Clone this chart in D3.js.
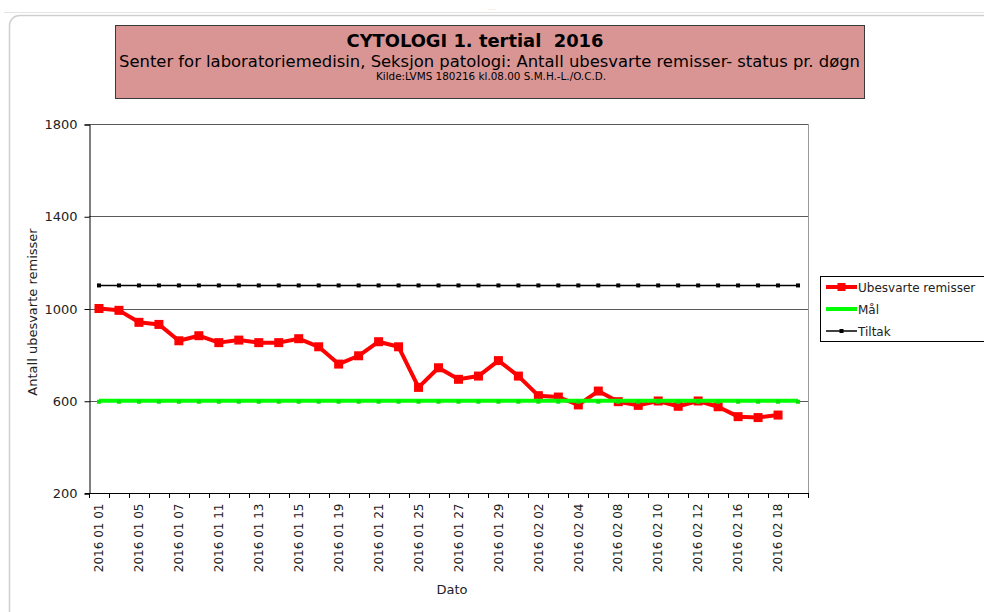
<!DOCTYPE html>
<html><head><meta charset="utf-8">
<script src="https://cdn.jsdelivr.net/npm/d3@7"></script>
<style>html,body{margin:0;padding:0;background:#fff;}svg{display:block;}</style>
</head><body>
<svg id="chart" width="984" height="612"></svg>
<script>
const dates = ["2016 01 01","2016 01 04","2016 01 05","2016 01 06","2016 01 07","2016 01 08","2016 01 11","2016 01 12","2016 01 13","2016 01 14","2016 01 15","2016 01 18","2016 01 19","2016 01 20","2016 01 21","2016 01 22","2016 01 25","2016 01 26","2016 01 27","2016 01 28","2016 01 29","2016 02 01","2016 02 02","2016 02 03","2016 02 04","2016 02 05","2016 02 08","2016 02 09","2016 02 10","2016 02 11","2016 02 12","2016 02 15","2016 02 16","2016 02 17","2016 02 18","2016 02 19"];
const shownLabels = ["2016 01 01","2016 01 05","2016 01 07","2016 01 11","2016 01 13","2016 01 15","2016 01 19","2016 01 21","2016 01 25","2016 01 27","2016 01 29","2016 02 02","2016 02 04","2016 02 08","2016 02 10","2016 02 12","2016 02 16","2016 02 18"];
const ubesvarte = [1000, 992, 940, 931, 860, 882, 852, 863, 852, 852, 869, 834, 759, 795, 856, 834, 658, 743, 693, 707, 774, 707, 622, 616, 582, 642, 596, 580, 599, 576, 599, 574, 531, 527, 538];
const maal = [600,600,600,600,600,600,600,600,600,600,600,600,600,600,600,600,600,600,600,600,600,600,600,600,600,600,600,600,600,600,600,600,600,600,600,600];
const tiltak = [1100,1100,1100,1100,1100,1100,1100,1100,1100,1100,1100,1100,1100,1100,1100,1100,1100,1100,1100,1100,1100,1100,1100,1100,1100,1100,1100,1100,1100,1100,1100,1100,1100,1100,1100,1100];
const yTicks = [200, 600, 1000, 1400, 1800];
const seriesNames = ["Ubesvarte remisser", "Mål", "Tiltak"];
const titleLines = ["CYTOLOGI 1. tertial  2016", "Senter for laboratoriemedisin, Seksjon patologi: Antall ubesvarte remisser- status pr. døgn", "Kilde:LVMS 180216 kl.08.00 S.M.H.-L./O.C.D."];
const yTitle = "Antall ubesvarte remisser";
const xTitle = "Dato";

const svg = d3.select("#chart");
const font = "'DejaVu Sans', Verdana, sans-serif";

// outer frame
svg.append("line").attr("x1", 4).attr("x2", 984).attr("y1", 12.5).attr("y2", 12.5).attr("stroke", "#e4e4e4");
svg.append("rect").attr("x", 9.5).attr("y", 15.5).attr("width", 1000).attr("height", 620).attr("rx", 10)
  .attr("fill", "#fff").attr("stroke", "#cfcfcf").attr("stroke-width", 1.5);
svg.append("text").attr("x", 492).attr("y", 12).attr("text-anchor", "middle").attr("font-size", 6).attr("fill", "#bbb").text("····");

// title box
svg.append("rect").attr("x", 115.5).attr("y", 25.5).attr("width", 749).attr("height", 73)
  .attr("fill", "#D99594").attr("stroke", "#3a3a3a").attr("stroke-width", 1);
const tfam = "'DejaVu Sans Condensed', 'DejaVu Sans', sans-serif";
svg.append("text").attr("x", 475).attr("y", 47).attr("text-anchor", "middle").attr("font-family", tfam)
  .style("white-space", "pre")
  .attr("font-weight", "bold").attr("font-size", 17).attr("textLength", 257).attr("lengthAdjust", "spacingAndGlyphs").text(titleLines[0]);
svg.append("text").attr("x", 489.5).attr("y", 67).attr("text-anchor", "middle").attr("font-family", tfam)
  .attr("font-size", 16).attr("textLength", 741).attr("lengthAdjust", "spacingAndGlyphs").text(titleLines[1]);
svg.append("text").attr("x", 491).attr("y", 80).attr("text-anchor", "middle").attr("font-family", tfam)
  .attr("font-size", 10).attr("textLength", 230).attr("lengthAdjust", "spacingAndGlyphs").text(titleLines[2]);

// scales
const pLeft = 89, pRight = 808, pTop = 124, pBottom = 493;
const x = d3.scaleBand().domain(dates).range([pLeft, pRight]).padding(0);
const y = d3.scaleLinear().domain([200, 1800]).range([pBottom, pTop]);

// gridlines
svg.append("g").selectAll("line").data(yTicks.slice(1)).join("line")
  .attr("x1", pLeft).attr("x2", pRight).attr("y1", d => Math.round(y(d)) + 0.5).attr("y2", d => Math.round(y(d)) + 0.5)
  .attr("stroke", "#5a5a5a").attr("stroke-width", 1);
// right border
svg.append("line").attr("x1", pRight + 0.5).attr("x2", pRight + 0.5).attr("y1", pTop).attr("y2", pBottom)
  .attr("stroke", "#9a9a9a");

// y axis
const yAxis = d3.axisLeft(y).tickValues(yTicks).tickSize(5).tickPadding(7).tickFormat(d3.format("d"));
const gy = svg.append("g").attr("transform", `translate(${pLeft + 0.5},0.5)`).call(yAxis);
gy.select(".domain").attr("stroke", "#000");
gy.selectAll(".tick line").attr("stroke", "#000");
gy.selectAll("text").attr("font-family", font).attr("font-size", 13).attr("fill", "#222");

// x axis (labels via axis, ticks at band boundaries)
const xAxis = d3.axisBottom(x).tickSize(0).tickPadding(10)
  .tickFormat(d => shownLabels.includes(d) ? d : "");
const gx = svg.append("g").attr("transform", `translate(0,${pBottom + 0.5})`).call(xAxis);
gx.select(".domain").attr("stroke", "#000").attr("d", `M${pLeft - 4},0H${pRight}`);
gx.selectAll("text").attr("font-family", font).attr("font-size", 12).attr("fill", "#222")
  .attr("text-anchor", "end").attr("dy", "0.35em").attr("transform", "translate(0,10) rotate(-90)").attr("y", 0).attr("x", 0);
const boundaries = dates.map(d => x(d)).concat([x(dates[dates.length - 1]) + x.bandwidth()]);
svg.append("g").selectAll("line").data(boundaries).join("line")
  .attr("x1", d => Math.round(d) + 0.5).attr("x2", d => Math.round(d) + 0.5)
  .attr("y1", pBottom).attr("y2", pBottom + 5).attr("stroke", "#000");

// axis titles
svg.append("text").attr("transform", `translate(37,312) rotate(-90)`).attr("text-anchor", "middle")
  .attr("font-family", font).attr("font-size", 13).attr("fill", "#222").text(yTitle);
svg.append("text").attr("x", 452).attr("y", 594).attr("text-anchor", "middle")
  .attr("font-family", font).attr("font-size", 13).attr("fill", "#222").text(xTitle);

const cx = d => x(d) + x.bandwidth() / 2;

// red series
const redData = ubesvarte.map((v, i) => [dates[i], v]);
svg.append("path").datum(redData).attr("fill", "none").attr("stroke", "#ff0000").attr("stroke-width", 4)
  .attr("stroke-linejoin", "round")
  .attr("d", d3.line().x(d => cx(d[0])).y(d => y(d[1])));
svg.append("g").selectAll("rect").data(redData).join("rect")
  .attr("x", d => cx(d[0]) - 4.5).attr("y", d => y(d[1]) - 4.5).attr("width", 9).attr("height", 9).attr("fill", "#ff0000");

// green series
const greenData = maal.map((v, i) => [dates[i], v]);
svg.append("path").datum(greenData).attr("fill", "none").attr("stroke", "#00ff00").attr("stroke-width", 4)
  .attr("d", d3.line().x(d => cx(d[0])).y(d => y(d[1])));
svg.append("g").selectAll("rect").data(greenData).join("rect")
  .attr("x", d => cx(d[0]) - 2).attr("y", d => y(d[1]) - 1).attr("width", 4).attr("height", 4).attr("fill", "#00e600");

// black series
const blackData = tiltak.map((v, i) => [dates[i], v]);
svg.append("path").datum(blackData).attr("fill", "none").attr("stroke", "#000").attr("stroke-width", 1.5)
  .attr("d", d3.line().x(d => cx(d[0])).y(d => y(d[1])));
svg.append("g").selectAll("rect").data(blackData).join("rect")
  .attr("x", d => cx(d[0]) - 2).attr("y", d => y(d[1]) - 2).attr("width", 4).attr("height", 4).attr("fill", "#000");

// legend
const lg = svg.append("g");
lg.append("rect").attr("x", 820.5).attr("y", 276.5).attr("width", 200).attr("height", 65)
  .attr("fill", "#fff").attr("stroke", "#000").attr("stroke-width", 1);
const legendStyles = [
  {color: "#ff0000", w: 4, m: 8},
  {color: "#00ff00", w: 4, m: 4},
  {color: "#000", w: 1.5, m: 4}
];
seriesNames.forEach((name, i) => {
  const yy = 287 + i * 22;
  const s = legendStyles[i];
  lg.append("line").attr("x1", 826).attr("x2", 857).attr("y1", yy).attr("y2", yy).attr("stroke", s.color).attr("stroke-width", s.w);
  lg.append("rect").attr("x", 841.5 - s.m / 2).attr("y", yy - s.m / 2).attr("width", s.m).attr("height", s.m).attr("fill", s.color);
  lg.append("text").attr("x", 858).attr("y", yy + 4.5).attr("font-family", font).attr("font-size", 12).attr("fill", "#222").text(name);
});
</script>
</body></html>
